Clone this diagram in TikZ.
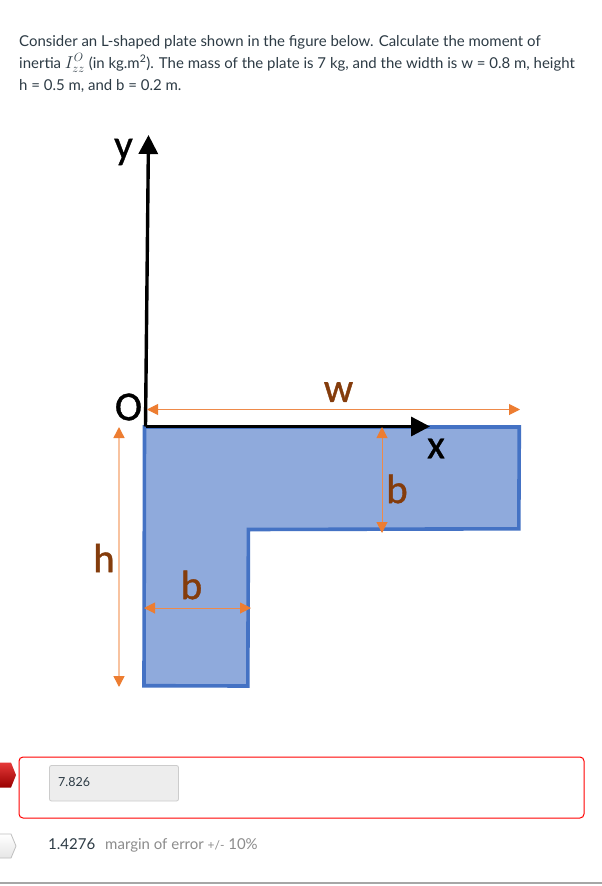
\documentclass[tikz,border=0pt]{standalone}
\usepackage{fontspec}
\setmainfont{Lato}
\newfontfamily\figfont[FakeBold=0.9]{Carlito}
\usetikzlibrary{arrows.meta,shadings}
\definecolor{txt}{HTML}{2D3B45}
\definecolor{plate}{HTML}{8FAADC}
\definecolor{plateedge}{HTML}{4472C4}
\definecolor{dimo}{HTML}{ED7D31}
\definecolor{dimthin}{HTML}{EE8A4A}
\definecolor{dimlight}{HTML}{F8C3A0}
\definecolor{lab}{HTML}{843C0C}
\tikzset{
 para/.style={anchor=base west,inner sep=0pt,text=txt,font=\fontsize{14.97}{18}\selectfont},
 axisline/.style={line width=3.4pt,black,-{Triangle[length=19pt,width=19pt]}},
 dimline/.style={line width=1pt,draw=dimthin,{Triangle[length=11pt,width=11pt,color=dimo]}-{Triangle[length=11pt,width=11pt,color=dimo]}},
 figlabel/.style={inner sep=0pt,font=\figfont\fontsize{41}{41}\selectfont},
 dimlabel/.style={figlabel,text=lab},
 ptr/.style={draw=#1,line width=.8pt},
}
\begin{document}
\begin{tikzpicture}[x=1pt,y=-1pt]
\useasboundingbox (0,0) rectangle (602,886);
\fill[white] (0,0) rectangle (602,886);
\node[para] (t1) at (19,46) {Consider an L-shaped plate shown in the figure below. Calculate the moment of};
\node[para] (t2) at (19,68) {inertia {\fontsize{17}{18}\selectfont\(I^{O}_{zz}\)} (in kg.m\textsuperscript{2}). The mass of the plate is 7 kg, and the width is w = 0.8 m, height};
\node[para] (t3) at (19,90) {h = 0.5 m, and b = 0.2 m.};
% plate
\draw[fill=plate,draw=plateedge,line width=3.6pt,miter limit=4]
 (144.5,427) -- (519.3,427) -- (518.8,528.8) -- (248.4,529.5) -- (247.8,686) -- (144,685.7) -- cycle;
% coordinates
\coordinate (O) at (145.5,426.5);
\coordinate (yend) at (148.5,135);
\coordinate (xend) at (430,426.5);
\coordinate (wl) at (147,409.5);
\coordinate (wr) at (520,409.5);
\coordinate (ht) at (119,427);
\coordinate (hb) at (119,687);
\coordinate (bt) at (382,427);
\coordinate (bb) at (382,533);
\coordinate (cl) at (144,608);
\coordinate (cr) at (251,608);
% axes
\draw[axisline] (O) -- (yend);
\draw[axisline] (O) -- (xend);
% dimensions
\draw[dimline] (wl) -- (wr);
\draw[dimline,draw=dimlight,line width=1.5pt] (ht) -- (hb);
\draw[dimline] (bt) -- (bb);
\draw[dimline] (cl) -- (cr);
% labels
\node[figlabel] (ly) at (123.5,152) {y};
\node[figlabel] (lO) at (128.5,407) {O};
\node[figlabel] (lx) at (436,448.5) {x};
\node[dimlabel] (lw) at (338.5,392) {w};
\node[dimlabel] (lb1) at (397,489) {b};
\node[dimlabel] (lh) at (104,558) {h};
\node[dimlabel] (lb2) at (191.5,585) {b};
% answer
\draw[red,line width=1pt,rounded corners=4pt] (19,757) rectangle (584,818);
\draw[draw=black!20,fill=black!7,line width=.8pt,rounded corners=2pt] (49.5,765.5) rectangle (178.5,801);
\node[anchor=base west,inner sep=0pt,text=txt,font=\fontsize{12.5}{15}\selectfont] (ans) at (58,786) {7.826};
\shade[top color=red!75!white!90!black,bottom color=red!60!black,draw=none] (0,762.5) -- (11,762.5) -- (16,775) -- (11,787.5) -- (0,787.5) -- cycle;
\shade[top color=white,bottom color=black!10,ptr=black!25] (-2,834) -- (11,834) -- (16,846) -- (11,858) -- (-2,858) -- cycle;
\node[anchor=base west,inner sep=0pt,text=txt,font=\fontsize{15}{18}\selectfont] (corr) at (48,849) {1.4276};
\node[anchor=base west,inner sep=0pt,text=black!45,font=\fontsize{15}{18}\selectfont] (moe) at (105,849) {margin of error {\fontsize{12}{14}\selectfont +/-} 10\%};
\draw[black!35,line width=1.2pt] (0,883) -- (602,883);
\end{tikzpicture}
\end{document}
